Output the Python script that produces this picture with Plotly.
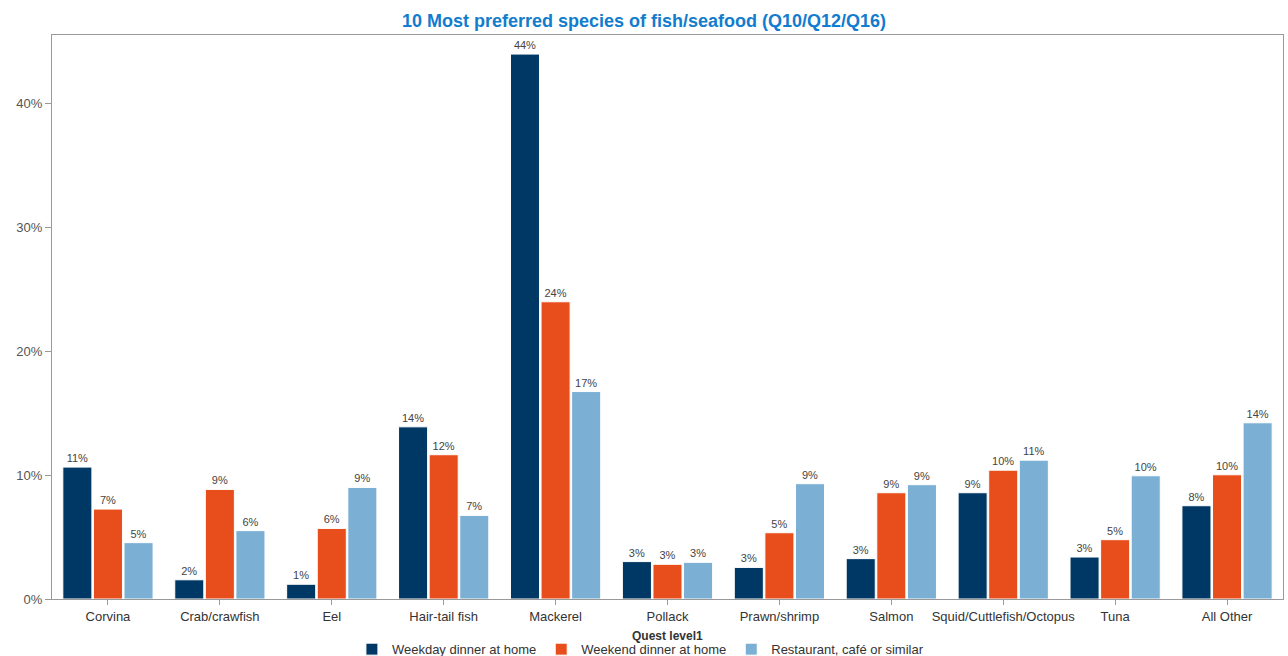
import plotly.graph_objects as go

categories = ["Corvina", "Crab/crawfish", "Eel", "Hair-tail fish", "Mackerel", "Pollack",
              "Prawn/shrimp", "Salmon", "Squid/Cuttlefish/Octopus", "Tuna", "All Other"]
weekday = [10.65, 1.55, 1.19, 13.9, 44.0, 3.02, 2.55, 3.26, 8.58, 3.39, 7.53]
weekend = [7.26, 8.85, 5.70, 11.65, 24.0, 2.80, 5.35, 8.58, 10.4, 4.79, 10.03]
restaurant = [4.55, 5.52, 9.01, 6.75, 16.75, 2.96, 9.31, 9.23, 11.21, 9.95, 14.23]
series_names = ["Weekday dinner at home", "Weekend dinner at home", "Restaurant, café or similar"]
colors = ["#003865", "#e84e1b", "#7bafd4"]
y_ticks = [0, 10, 20, 30, 40]
y_tick_labels = ["0%", "10%", "20%", "30%", "40%"]

fig = go.Figure()
for name, vals, col in zip(series_names, [weekday, weekend, restaurant], colors):
    fig.add_trace(go.Bar(
        x=categories, y=vals, name=name,
        marker=dict(color=col, line=dict(color="white", width=1)),
        text=[f"{int(v + 0.5)}%" for v in vals],
        textposition="outside",
        textfont=dict(size=11, color="#444444", family="Liberation Sans, Arial"),
        cliponaxis=False,
    ))

fig.update_layout(
    width=1288, height=656,
    margin=dict(l=52, r=5, t=35, b=57, autoexpand=False),
    paper_bgcolor="white", plot_bgcolor="white",
    barmode="group", bargap=0.18, bargroupgap=0.05,
    font=dict(family="Liberation Sans, Arial", size=13, color="#333333"),
    title=dict(text="<b>10 Most preferred species of fish/seafood (Q10/Q12/Q16)</b>",
               x=0.5, xanchor="center", y=1 - 21 / 656, yanchor="middle",
               font=dict(size=18, color="#127cce", family="Liberation Sans, Arial")),
    showlegend=True,
    legend=dict(orientation="h", x=0.478, xanchor="center", y=-0.089, yanchor="middle",
                font=dict(size=13, color="#333333"), itemwidth=30,
                traceorder="normal", tracegroupgap=0),
)
fig.update_xaxes(showgrid=False, showline=True, linecolor="#999999", linewidth=1, mirror=True,
                 ticks="outside", ticklen=5, tickcolor="#999999",
                 tickfont=dict(size=13, color="#333333"))
fig.update_yaxes(range=[0, 45.54], showgrid=False, zeroline=False, showline=True,
                 linecolor="#999999", linewidth=1, mirror=True,
                 ticks="outside", ticklen=6, tickcolor="#999999",
                 tickvals=y_ticks, ticktext=y_tick_labels,
                 tickfont=dict(size=13, color="#555555"))
fig.add_annotation(text="<b>Quest level1</b>", xref="paper", yref="paper",
                   x=0.5, y=-0.066, xanchor="center", yanchor="middle", showarrow=False,
                   font=dict(size=12, color="#333333"))
fig.write_html("out.html")
